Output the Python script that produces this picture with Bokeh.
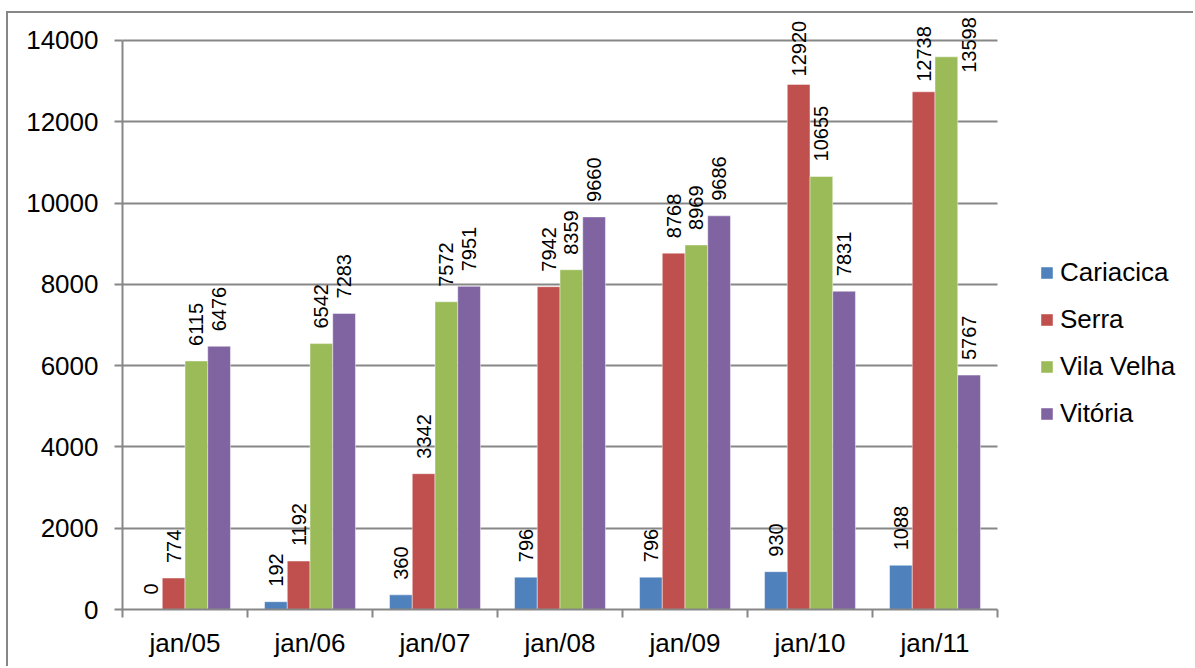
from bokeh.plotting import figure
from bokeh.models import ColumnDataSource, FixedTicker, Legend, LegendItem, Range1d, BoxAnnotation
from bokeh.core.properties import value
from bokeh.embed import file_html
from bokeh.resources import INLINE

categories = ["jan/05", "jan/06", "jan/07", "jan/08", "jan/09", "jan/10", "jan/11"]
series_names = ["Cariacica", "Serra", "Vila Velha", "Vitória"]
cariacica = [0, 192, 360, 796, 796, 930, 1088]
serra = [774, 1192, 3342, 7942, 8768, 12920, 12738]
vila_velha = [6115, 6542, 7572, 8359, 8969, 10655, 13598]
vitoria = [6476, 7283, 7951, 9660, 9686, 7831, 5767]
y_ticks = [0, 2000, 4000, 6000, 8000, 10000, 12000, 14000]

colors = ["#4F81BD", "#C0504D", "#9BBB59", "#8064A2"]
series = [cariacica, serra, vila_velha, vitoria]

# label nudges in screen px (series index, category index) -> (dx, dy)
label_nudge = {(1, 5): (0, -8), (1, 6): (0, -10), (2, 6): (22.7, 16)}

FONT = "Liberation Sans"
GRAY = "#878787"
n = len(categories)
x_end = n + 198 / 125.0

p = figure(width=1187, height=655, output_backend="svg", toolbar_location=None,
           x_range=Range1d(0, x_end), y_range=Range1d(0, 14615),
           min_border_left=114, min_border_top=2, min_border_bottom=59,
           min_border_right=0)
p.styles = {"margin-left": "6px", "margin-top": "11px",
            "border-left": "2px solid " + GRAY, "border-top": "2px solid " + GRAY}
p.outline_line_color = None
p.background_fill_color = "white"
p.border_fill_color = "white"

p.xgrid.visible = False
p.ygrid.ticker = FixedTicker(ticks=y_ticks)
p.ygrid.grid_line_color = GRAY
p.ygrid.grid_line_width = 2

# blank the area right of the plot region (legend area)
p.add_layout(BoxAnnotation(left=n, fill_color="white", fill_alpha=1.0,
                           line_color=None, level="underlay"))

bw = 1 / 5.5
offsets = [-1.5 * bw, -0.5 * bw, 0.5 * bw, 1.5 * bw]
renderers = []
for si, (name, vals, col, off) in enumerate(zip(series_names, series, colors, offsets)):
    xs = [i + 0.5 + off for i in range(n)]
    dx = [label_nudge.get((si, i), (0, -15))[0] for i in range(n)]
    dy = [label_nudge.get((si, i), (0, -15))[1] for i in range(n)]
    src = ColumnDataSource(dict(x=xs, top=vals, lab=[str(v) for v in vals], dx=dx, dy=dy))
    r = p.vbar(x="x", top="top", width=bw, source=src, fill_color=col,
               line_color="white", line_alpha=0.45, line_width=1)
    renderers.append((name, r))
    p.text(x="x", y="top", text="lab", source=src, angle=1.5708,
           text_align="left", text_baseline="middle", x_offset="dx", y_offset="dy",
           text_font=value(FONT), text_font_size="20px", text_color="black")

yax = p.yaxis[0]
yax.ticker = FixedTicker(ticks=y_ticks)
yax.bounds = (0, 14000)
yax.axis_line_color = GRAY
yax.axis_line_width = 2
yax.major_tick_line_color = GRAY
yax.major_tick_line_width = 2
yax.major_tick_in = 0
yax.major_tick_out = 8
yax.minor_tick_line_color = None
yax.major_label_standoff = 16
yax.major_label_text_font = FONT
yax.major_label_text_font_size = "26px"
yax.major_label_text_color = "black"

xax = p.xaxis[0]
xax.ticker = FixedTicker(ticks=[i + 0.5 for i in range(n)],
                         minor_ticks=list(range(n + 1)))
xax.bounds = (0, n)
xax.major_label_overrides = {i + 0.5: c for i, c in enumerate(categories)}
xax.axis_line_color = GRAY
xax.axis_line_width = 2
xax.major_tick_line_color = None
xax.major_tick_in = 0
xax.major_tick_out = 0
xax.minor_tick_line_color = GRAY
xax.minor_tick_line_width = 2
xax.minor_tick_in = 0
xax.minor_tick_out = 8
xax.major_label_standoff = 10
xax.major_label_text_font = FONT
xax.major_label_text_font_size = "26px"
xax.major_label_text_color = "black"

legend = Legend(items=[LegendItem(label=nm, renderers=[r]) for nm, r in renderers],
                location=(917, 180), orientation="vertical",
                glyph_width=15, glyph_height=15, label_height=30, spacing=16,
                label_standoff=6, padding=0, margin=0,
                label_text_font=FONT, label_text_font_size="26px",
                label_text_color="black", border_line_color=None,
                background_fill_alpha=0)
p.add_layout(legend, "center")

open("out.html", "w").write(file_html(p, INLINE))
